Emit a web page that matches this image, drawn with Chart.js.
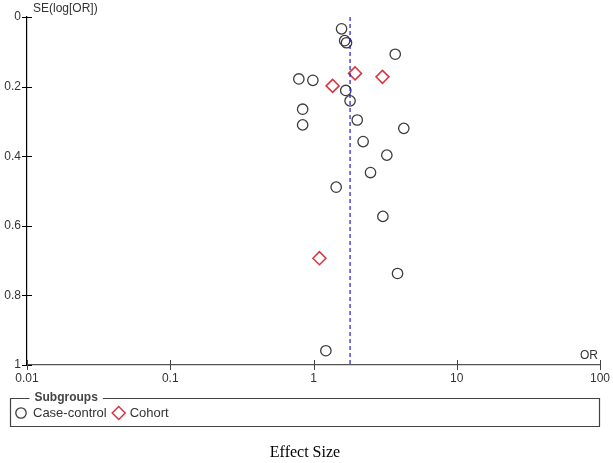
<!DOCTYPE html>
<html>
<head>
<meta charset="utf-8">
<script src="https://cdn.jsdelivr.net/npm/chart.js@4.4.1/dist/chart.umd.min.js"></script>
<style>
  body { margin: 0; background: #fff; }
  canvas { display: block; }
</style>
</head>
<body>
<canvas id="funnel" width="613" height="463"></canvas>
<script>
// funnel plot data
const caseOR = [1.57, 1.65, 1.70, 3.72, 0.79, 0.99, 1.68, 1.80, 0.84, 0.84, 2.02, 4.27, 2.22, 3.25, 2.50, 1.44, 3.05, 3.86, 1.22];
const caseSE = [0.034, 0.068, 0.074, 0.107, 0.178, 0.182, 0.211, 0.241, 0.265, 0.310, 0.296, 0.320, 0.358, 0.397, 0.447, 0.489, 0.573, 0.737, 0.959];
const cohortOR = [1.95, 3.03, 1.36, 1.10];
const cohortSE = [0.162, 0.172, 0.198, 0.693];
const pooledOR = 1.80;
const xTicks = [0.01, 0.1, 1, 10, 100];
const yTicks = [0, 0.2, 0.4, 0.6, 0.8, 1];
const subgroupNames = ['Case-control', 'Cohort'];

const toPoints = (xs, ys) => xs.map((x, i) => ({ x: x, y: ys[i] }));

const FONT = '"Liberation Sans", Arial, sans-serif';
const GREY = '#3c3c3c';
const RED = '#d8353f';

// tick marks that cross the axis, plus the extra labels and the legend box
const extras = {
  id: 'extras',
  afterDraw(chart) {
    const ctx = chart.ctx;
    const xs = chart.scales.x, ys = chart.scales.y;
    const left = chart.chartArea.left, bottom = chart.chartArea.bottom;
    ctx.save();
    ctx.lineWidth = 1;
    ctx.strokeStyle = '#000';
    yTicks.forEach(v => {
      const py = Math.round(ys.getPixelForValue(v)) + 0.5;
      ctx.beginPath(); ctx.moveTo(left - 5, py); ctx.lineTo(left + 5, py); ctx.stroke();
    });
    ctx.strokeStyle = '#444';
    xTicks.forEach(v => {
      const px = Math.round(xs.getPixelForValue(v)) + 0.5;
      ctx.beginPath(); ctx.moveTo(px, bottom - 5); ctx.lineTo(px, bottom + 5); ctx.stroke();
    });

    ctx.fillStyle = '#333';
    ctx.font = '12px ' + FONT;
    ctx.textBaseline = 'middle';
    ctx.textAlign = 'left';
    ctx.fillText('SE(log[OR])', left + 6, 9);
    ctx.textAlign = 'right';
    ctx.fillText('OR', chart.chartArea.right - 2, bottom - 9);

    // legend box
    const bx = 10.5, by = 398.5, bw = 589, bh = 28;
    ctx.font = 'bold 12px ' + FONT;
    const title = 'Subgroups';
    const tw = ctx.measureText(title).width;
    ctx.strokeStyle = '#444';
    ctx.lineWidth = 1.2;
    ctx.beginPath();
    ctx.moveTo(bx + 19, by); ctx.lineTo(bx, by); ctx.lineTo(bx, by + bh);
    ctx.lineTo(bx + bw, by + bh); ctx.lineTo(bx + bw, by); ctx.lineTo(bx + 29 + tw, by);
    ctx.stroke();
    ctx.fillStyle = '#444';
    ctx.textAlign = 'left';
    ctx.fillText(title, bx + 24, by - 1);

    const iy = 413;
    ctx.font = '13px ' + FONT;
    ctx.fillStyle = '#333';
    ctx.lineWidth = 1.3;
    ctx.strokeStyle = GREY;
    ctx.beginPath(); ctx.arc(21, iy, 5.2, 0, Math.PI * 2); ctx.stroke();
    ctx.fillText(subgroupNames[0], 33, iy);
    const cw = ctx.measureText(subgroupNames[0]).width;
    const dx = 33 + cw + 12;
    ctx.strokeStyle = RED;
    ctx.lineWidth = 1.5;
    ctx.beginPath();
    ctx.moveTo(dx, iy - 6.5); ctx.lineTo(dx + 6.5, iy); ctx.lineTo(dx, iy + 6.5); ctx.lineTo(dx - 6.5, iy); ctx.closePath();
    ctx.stroke();
    ctx.fillText(subgroupNames[1], dx + 11, iy);

    ctx.fillStyle = '#000';
    ctx.font = '16px "Liberation Serif", "Times New Roman", serif';
    ctx.textAlign = 'center';
    ctx.fillText('Effect Size', 305, 453);
    ctx.restore();
  }
};

new Chart(document.getElementById('funnel'), {
  type: 'scatter',
  data: {
    datasets: [
      {
        label: 'Pooled',
        data: [{ x: pooledOR, y: 0 }, { x: pooledOR, y: 1 }],
        showLine: true,
        borderColor: '#1f1fc0',
        borderWidth: 1.2,
        borderDash: [4, 3],
        pointRadius: 0
      },
      {
        label: subgroupNames[0],
        data: toPoints(caseOR, caseSE),
        pointStyle: 'circle',
        pointRadius: 5.2,
        borderColor: GREY,
        borderWidth: 1.3,
        backgroundColor: 'rgba(0,0,0,0)'
      },
      {
        label: subgroupNames[1],
        data: toPoints(cohortOR, cohortSE),
        pointStyle: 'rectRot',
        pointRadius: 6.5,
        borderColor: RED,
        borderWidth: 1.5,
        backgroundColor: 'rgba(0,0,0,0)'
      }
    ]
  },
  options: {
    responsive: false,
    animation: false,
    layout: { padding: { left: 0, top: 17, right: 13, bottom: 0 } },
    plugins: {
      legend: { display: false },
      tooltip: { enabled: false }
    },
    scales: {
      x: {
        type: 'logarithmic',
        min: 0.01,
        max: 100,
        afterBuildTicks: s => { s.ticks = xTicks.map(v => ({ value: v })); },
        afterFit: s => { s.height = 98; s.paddingLeft = 0; s.paddingRight = 0; },
        grid: { display: false, drawTicks: false },
        border: { display: true, color: '#555', width: 1.2 },
        ticks: {
          padding: 6,
          maxRotation: 0,
          autoSkip: false,
          color: '#333',
          font: { family: FONT, size: 12 },
          callback: v => String(v)
        }
      },
      y: {
        type: 'linear',
        reverse: true,
        min: 0,
        max: 1,
        afterBuildTicks: s => { s.ticks = yTicks.map(v => ({ value: v })); },
        afterFit: s => { s.width = 27; },
        grid: { display: false, drawTicks: false },
        border: { display: true, color: '#000', width: 1.2 },
        ticks: {
          padding: 6,
          color: '#333',
          font: { family: FONT, size: 12 },
          callback: v => String(v)
        }
      }
    }
  },
  plugins: [extras]
});
</script>
</body>
</html>
